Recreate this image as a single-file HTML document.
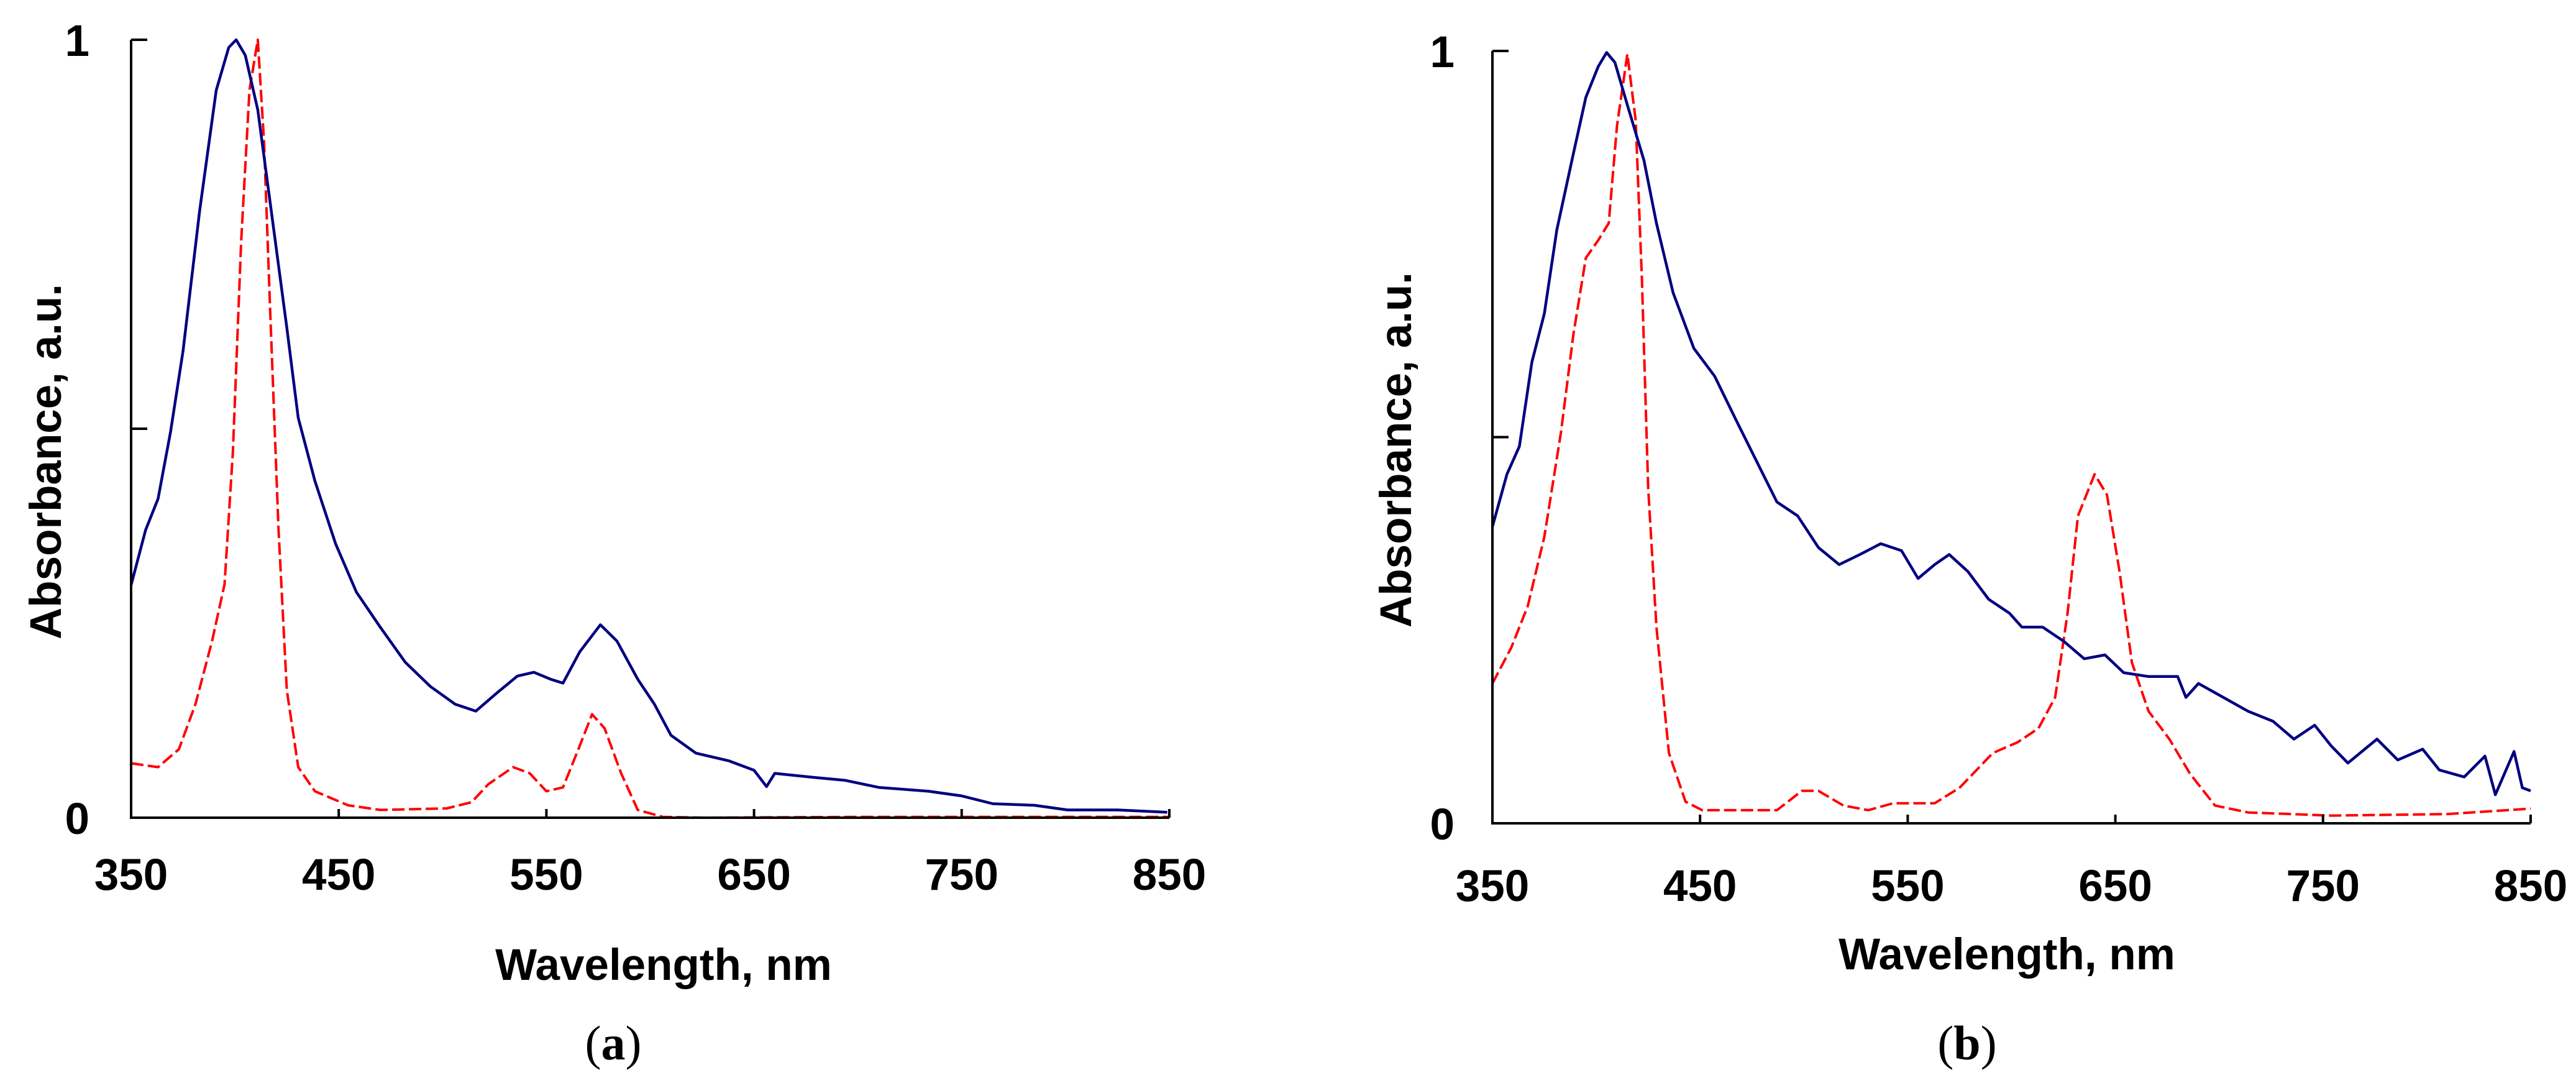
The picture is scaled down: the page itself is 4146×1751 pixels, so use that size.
<!DOCTYPE html>
<html><head><meta charset="utf-8">
<style>
html,body{margin:0;padding:0;background:#fff;}
svg{display:block;}
text{font-family:"Liberation Sans",Arial,sans-serif;font-weight:bold;fill:#000;}
.cap{font-family:"Liberation Serif","Times New Roman",serif;font-weight:normal;}
</style></head>
<body>
<svg id="fig" width="4146" height="1751" viewBox="0 0 4146 1751" xmlns="http://www.w3.org/2000/svg"></svg>
<script>
const xTicks = [350,450,550,650,750,850];
const yTickVals = [0,0.5,1];
const yTickLabels = ["0","","1"];

const aBlueNm = [350,357,363,369,375,383,391,397,400.6,405,411,419,425,430.5,438.5,448.5,458.5,470,482,494,506,516,526,536,544,552,558,566,576,584,594,602,610,622,638,650,656,660,678,694,710,734,750,765,785,801,825,849];
const aBlueVal = [0.299,0.37,0.41,0.496,0.60,0.78,0.935,0.99,1.0,0.98,0.91,0.75,0.63,0.514,0.433,0.352,0.29,0.245,0.2,0.169,0.146,0.137,0.16,0.182,0.187,0.178,0.173,0.213,0.248,0.227,0.178,0.146,0.106,0.083,0.073,0.061,0.04,0.057,0.052,0.048,0.039,0.034,0.028,0.018,0.016,0.01,0.01,0.007];
const aRedNm = [350,363,373,381,389,395,399,403,407,411,414,417,421,425,430.5,438.5,454.5,470,502,514,522,534,542,550,558,566,572,578,586,594,606,626,700,850];
const aRedVal = [0.07,0.065,0.088,0.146,0.227,0.3,0.47,0.74,0.935,1.0,0.87,0.65,0.37,0.164,0.065,0.034,0.016,0.01,0.012,0.02,0.043,0.065,0.057,0.034,0.039,0.092,0.133,0.115,0.057,0.01,0.001,0,0.001,0.001];

const bBlueNm = [350,357,363,369,375,381,389,395,401,405,409,415,423,429,437,447,457,467,477,487,497,507,517,527,537,547,555,563,570,579,589,599,605,615,625,635,645,654,666,680,684,690,702,714,726,736,746,754,762,776,786,798,806,818,828,833,842,846,850];
const bBlueVal = [0.384,0.452,0.488,0.597,0.66,0.768,0.867,0.94,0.98,0.998,0.985,0.93,0.858,0.777,0.687,0.615,0.579,0.524,0.47,0.416,0.398,0.357,0.335,0.348,0.362,0.353,0.317,0.335,0.348,0.326,0.29,0.272,0.254,0.254,0.236,0.213,0.218,0.195,0.19,0.19,0.163,0.181,0.163,0.145,0.132,0.109,0.127,0.1,0.078,0.109,0.082,0.096,0.069,0.06,0.087,0.037,0.093,0.046,0.042];
const bRedNm = [350,359,367,375,383,389,395,401,406,410,415,419,422,425,429,435,443,451,475,487,499,507,519,531,543,563,575,591,603,613,621,627,632,640,646,652,658,666,676,686,698,714,754,810,850];
const bRedVal = [0.181,0.227,0.281,0.371,0.506,0.633,0.732,0.755,0.777,0.903,0.996,0.91,0.705,0.434,0.254,0.091,0.028,0.017,0.017,0.017,0.042,0.042,0.023,0.017,0.026,0.026,0.046,0.091,0.105,0.123,0.163,0.272,0.398,0.452,0.425,0.326,0.208,0.145,0.109,0.064,0.023,0.014,0.01,0.012,0.019];

const NS = "http://www.w3.org/2000/svg";
const svg = document.getElementById('fig');
function el(tag, attrs, parent){const e=document.createElementNS(NS,tag);for(const k in attrs)e.setAttribute(k,attrs[k]);(parent||svg).appendChild(e);return e;}

function panel(cfg){
  const g = el('g',{});
  
  
  const xs = v => cfg.x0 + (v-350)/500*(cfg.x1-cfg.x0);
  const ys = v => cfg.y0 - v*(cfg.y0-cfg.y1);
  function series(nm, vals, color, dash, w, name){
    let d = '';
    nm.forEach((n,i)=>{ d += (i?'L':'M') + xs(n).toFixed(1) + ' ' + ys(vals[i]).toFixed(1) + ' '; });
    const p = el('path',{d:d,fill:'none',stroke:color,'stroke-width':w,'stroke-linejoin':'round'},g);
    if(dash) p.setAttribute('stroke-dasharray', dash);
    
    
  }
  series(cfg.redNm, cfg.redVal, '#ff0000', '20 7', 4, 'red-dashed-series');
  series(cfg.blueNm, cfg.blueVal, '#000080', null, 4.5, 'blue-solid-series');
  const ax = el('path',{d:`M${cfg.x0} ${cfg.y1} V${cfg.y0} H${cfg.x1}`,fill:'none',stroke:'#000','stroke-width':4},g);
  
  
  xTicks.forEach(t=>{
    const x = xs(t);
    const tk = el('line',{x1:x,x2:x,y1:cfg.y0,y2:cfg.y0-14,stroke:'#000','stroke-width':4},g);
    
    
    const tl = el('text',{x:x,y:cfg.xlY,'font-size':71,'text-anchor':'middle'},g);
    tl.textContent = t;
    
    
  });
  yTickVals.forEach((v,i)=>{
    const y = ys(v);
    const tk = el('line',{x1:cfg.x0,x2:cfg.x0+26,y1:y,y2:y,stroke:'#000','stroke-width':4},g);
    
    
    if(yTickLabels[i]){
      const tl = el('text',{x:cfg.ylX,y:y+26,'font-size':71,'text-anchor':'end'},g);
      tl.textContent = yTickLabels[i];
      
      
    }
  });
  const xt = el('text',{x:cfg.xtX,y:cfg.xtY,'font-size':71,'text-anchor':'middle'},g);
  xt.textContent = 'Wavelength, nm';
  
  
  const yt = el('text',{x:0,y:0,'font-size':71,'text-anchor':'middle',transform:`translate(${cfg.ytX},${cfg.ytY}) rotate(-90)`},g);
  yt.textContent = 'Absorbance, a.u.';
  
  
  const cap = el('text',{x:cfg.capX,y:1705,'font-size':78,'text-anchor':'middle','class':'cap'},g);
  cap.innerHTML = '(<tspan font-weight="bold">'+cfg.cap+'</tspan>)';
  
  
}

panel({name:'panel-a',x0:211,x1:1882,y0:1316,y1:64,xlY:1432,ylX:144,xtX:1068,xtY:1577,ytX:98,ytY:743,capX:987,cap:'a',
  blueNm:aBlueNm,blueVal:aBlueVal,redNm:aRedNm,redVal:aRedVal});
panel({name:'panel-b',x0:2402,x1:4073,y0:1325,y1:82,xlY:1450,ylX:2341,xtX:3230,xtY:1560,ytX:2271,ytY:724,capX:3166,cap:'b',
  blueNm:bBlueNm,blueVal:bBlueVal,redNm:bRedNm,redVal:bRedVal});
</script>
</body></html>
